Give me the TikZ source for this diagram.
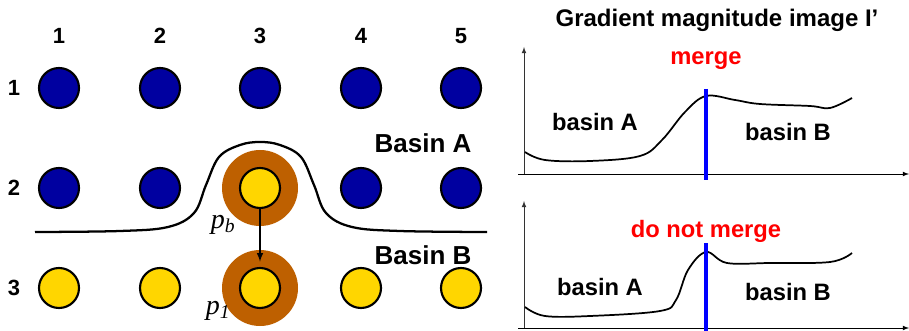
\documentclass[tikz,border=0pt]{standalone}
\usepackage{fontspec}
\setmainfont{Liberation Sans}
\newfontfamily\pfont{Liberation Serif}
\usepackage{xcolor}
\usetikzlibrary{shapes,arrows}

\definecolor{dotblue}{RGB}{0,0,160}
\definecolor{dotgold}{RGB}{255,214,0}
\definecolor{ringbrown}{RGB}{190,96,0}

\begin{document}
\begin{tikzpicture}[x=0.75pt,y=-0.75pt,
    bluedot/.style={circle,draw=black,line width=1.6pt,fill=dotblue,minimum size=30pt,inner sep=0pt},
    golddot/.style={circle,draw=black,line width=1.6pt,fill=dotgold,minimum size=30pt,inner sep=0pt},
    ring/.style={circle,fill=ringbrown,minimum size=57pt,inner sep=0pt},
    num/.style={font=\fontsize{16.5}{18}\selectfont\bfseries},
    big/.style={font=\fontsize{19.5}{22}\selectfont\bfseries},
    lbl/.style={font=\fontsize{17.8}{20}\selectfont\bfseries},
    pix/.style={font=\fontsize{21}{24}\selectfont\pfont\itshape}]
    \useasboundingbox (0,0) rectangle (909,331);

    % column and row numbers
    \node[num] (c1) at (59,36) {1};
    \node[num] (c2) at (160,36) {2};
    \node[num] (c3) at (260,36) {3};
    \node[num] (c4) at (361,36) {4};
    \node[num] (c5) at (461,36) {5};
    \node[num] (r1) at (14,88) {1};
    \node[num] (r2) at (14,188) {2};
    \node[num] (r3) at (14,288) {3};

    % rings behind the two pixels
    \node[ring] (rb) at (260,188) {};
    \node[ring] (r1p) at (260,288) {};

    % pixel grid
    \node[bluedot] (d11) at (59,88) {};
    \node[bluedot] (d12) at (160,88) {};
    \node[bluedot] (d13) at (260,88) {};
    \node[bluedot] (d14) at (361,88) {};
    \node[bluedot] (d15) at (461,88) {};
    \node[bluedot] (d21) at (59,188) {};
    \node[bluedot] (d22) at (160,188) {};
    \node[golddot] (d23) at (260,188) {};
    \node[bluedot] (d24) at (361,188) {};
    \node[bluedot] (d25) at (461,188) {};
    \node[golddot] (d31) at (59,288) {};
    \node[golddot] (d32) at (160,288) {};
    \node[golddot] (d33) at (260,288) {};
    \node[golddot] (d34) at (361,288) {};
    \node[golddot] (d35) at (461,288) {};

    % border between the basins
    \draw[line width=1.7pt] plot[smooth,tension=0.6] coordinates {(35,232) (120,231) (168,227) (194,213) (206,185) (219,157) (240,145) (260,142) (280,145) (301,157) (314,185) (326,213) (352,227) (400,231) (487,232)};

    \node[big] (ba) at (423,143) {Basin A};
    \node[big] (bb) at (423,255) {Basin B};

    \node[pix] (pb) at (223,225) {p\textsubscript{b}};
    \node[pix] (p1) at (218,311) {p\textsubscript{1}};

    \draw[-latex,line width=1.2pt,shorten >=4pt] (d23) -- (d33);

    % gradient profiles
    \node[font=\fontsize{18}{20}\selectfont\bfseries] (title) at (717,20) {Gradient magnitude image I’};

    % upper profile
    \draw[-latex,gray!40!black,line width=0.6pt] (524,174) -- (524,47);
    \draw[-latex,line width=0.6pt] (518,174) -- (909,174);
    \draw[line width=1.3pt] plot[smooth,tension=0.6] coordinates {(525,152) (545,160) (590,161) (640,156) (662,140) (685,112) (706,96) (735,100) (760,104) (810,106) (830,108) (852,98)};
    \draw[blue,line width=3.5pt] (706,89) -- (706,180);
    \node[lbl,red] (m1) at (706,61) {merge};
    \node[lbl] (a1) at (595,122) {basin A};
    \node[lbl] (b1) at (788,132) {basin B};

    % lower profile
    \draw[-latex,gray!40!black,line width=0.6pt] (524,328) -- (524,201);
    \draw[-latex,line width=0.6pt] (518,328) -- (909,328);
    \draw[line width=1.3pt] plot[smooth,tension=0.6] coordinates {(525,307) (545,316) (590,316) (660,311) (676,300) (688,270) (706,252) (727,263) (770,263) (830,262) (852,253)};
    \draw[blue,line width=3.5pt] (706,243) -- (706,331);
    \node[lbl,red] (m2) at (706,231) {do not merge};
    \node[lbl] (a2) at (600,287) {basin A};
    \node[lbl] (b2) at (788,292) {basin B};
\end{tikzpicture}
\end{document}
